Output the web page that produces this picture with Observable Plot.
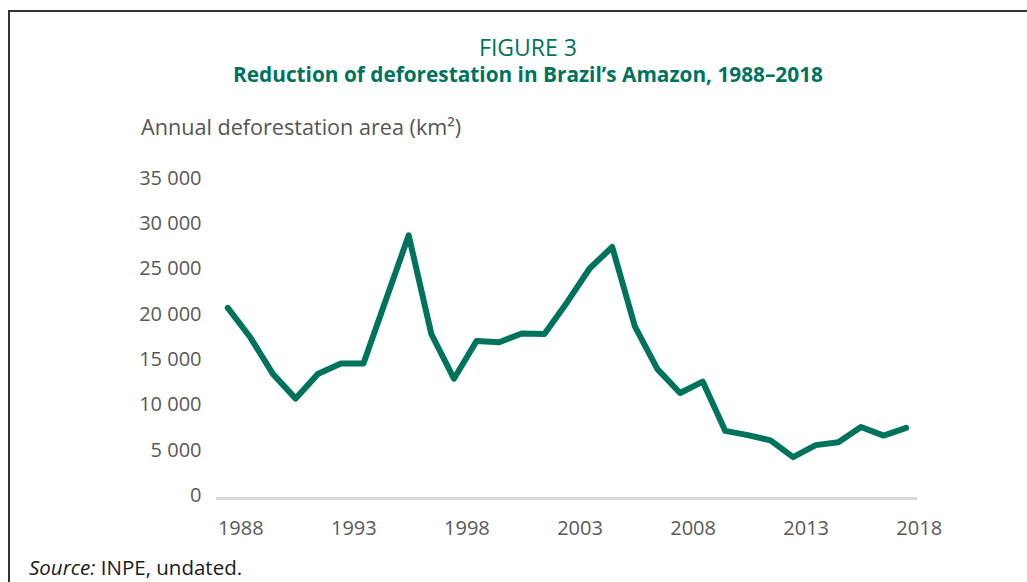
<!DOCTYPE html>
<html>
<head>
<meta charset="utf-8">
<script src="https://cdn.jsdelivr.net/npm/d3@7"></script>
<script src="https://cdn.jsdelivr.net/npm/@observablehq/plot@0.6"></script>
<style>
  html, body { margin: 0; padding: 0; background: #fff; }
  #page { position: relative; width: 1027px; height: 582px; overflow: hidden; font-family: "Open Sans", sans-serif; }
  #frame { position: absolute; left: 8px; top: 10px; width: 1100px; height: 700px; border-top: 2px solid #333; border-left: 2px solid #333; }
  .t { position: absolute; white-space: nowrap; line-height: 1; }
  #head { left: 0; width: 1056px; text-align: center; top: 35px; color: #00735f; line-height: 24px; }
  #head .a { font-size: 23px; }
  #head .b { font-size: 20.8px; font-weight: 700; }
  #ylab { left: 141px; top: 116px; font-size: 21.6px; color: #555; }
  #chart { position: absolute; left: 0; top: 100px; }
  #src { left: 29px; top: 557px; font-size: 20.5px; color: #1a1a1a; }
</style>
</head>
<body>
<div id="page">
  <div id="frame"></div>
  <div class="t" id="head"><span class="a">FIGURE 3</span><br><span class="b">Reduction of deforestation in Brazil’s Amazon, 1988–2018</span></div>
  <div class="t" id="ylab">Annual deforestation area (km²)</div>
  <div id="chart"></div>
  <div class="t" id="src"><i>Source:</i> INPE, undated.</div>
</div>
<script>
const years = [1988, 1989, 1990, 1991, 1992, 1993, 1994, 1995, 1996, 1997, 1998, 1999, 2000, 2001, 2002, 2003,
               2004, 2005, 2006, 2007, 2008, 2009, 2010, 2011, 2012, 2013, 2014, 2015, 2016, 2017, 2018];
const area = [21050, 17770, 13730, 11030, 13786, 14896, 14896, 22000, 29059, 18161, 13227, 17383, 17259, 18226, 18165, 21651,
              25396, 27772, 19014, 14286, 11651, 12911, 7464, 7000, 6418, 4571, 5891, 6207, 7893, 6947, 7800];
const xTicks = [1988, 1993, 1998, 2003, 2008, 2013, 2018];
const yTicks = [0, 5000, 10000, 15000, 20000, 25000, 30000, 35000];

const data = years.map((year, i) => ({year, area: area[i]}));
const fmt = d3.formatLocale({decimal: ".", thousands: " ", grouping: [3], currency: ["", ""]}).format(",");

const chart = Plot.plot({
  width: 1027,
  height: 455,
  marginLeft: 216,
  marginRight: 110,
  marginTop: 81,
  marginBottom: 57,
  x: {domain: [1987.5, 2018.5]},
  y: {domain: [0, 35000]},
  style: {fontFamily: "'Open Sans', sans-serif", fontSize: "20px", color: "#595959", background: "transparent", overflow: "visible"},
  marks: [
    Plot.ruleY([0], {stroke: "#d9d9d9", strokeWidth: 3}),
    Plot.line(data, {x: "year", y: "area", stroke: "#00735c", strokeWidth: 6, strokeLinecap: "round", strokeLinejoin: "round"}),
    Plot.axisY({ticks: yTicks, tickSize: 0, tickPadding: 15, tickFormat: fmt, label: null, dy: -3, fill: "#595959"}),
    Plot.axisX({ticks: xTicks, tickSize: 0, tickPadding: 22, tickFormat: d => String(d), label: null, dx: 13, fill: "#595959"})
  ]
});
document.getElementById("chart").appendChild(chart);
</script>
</body>
</html>
